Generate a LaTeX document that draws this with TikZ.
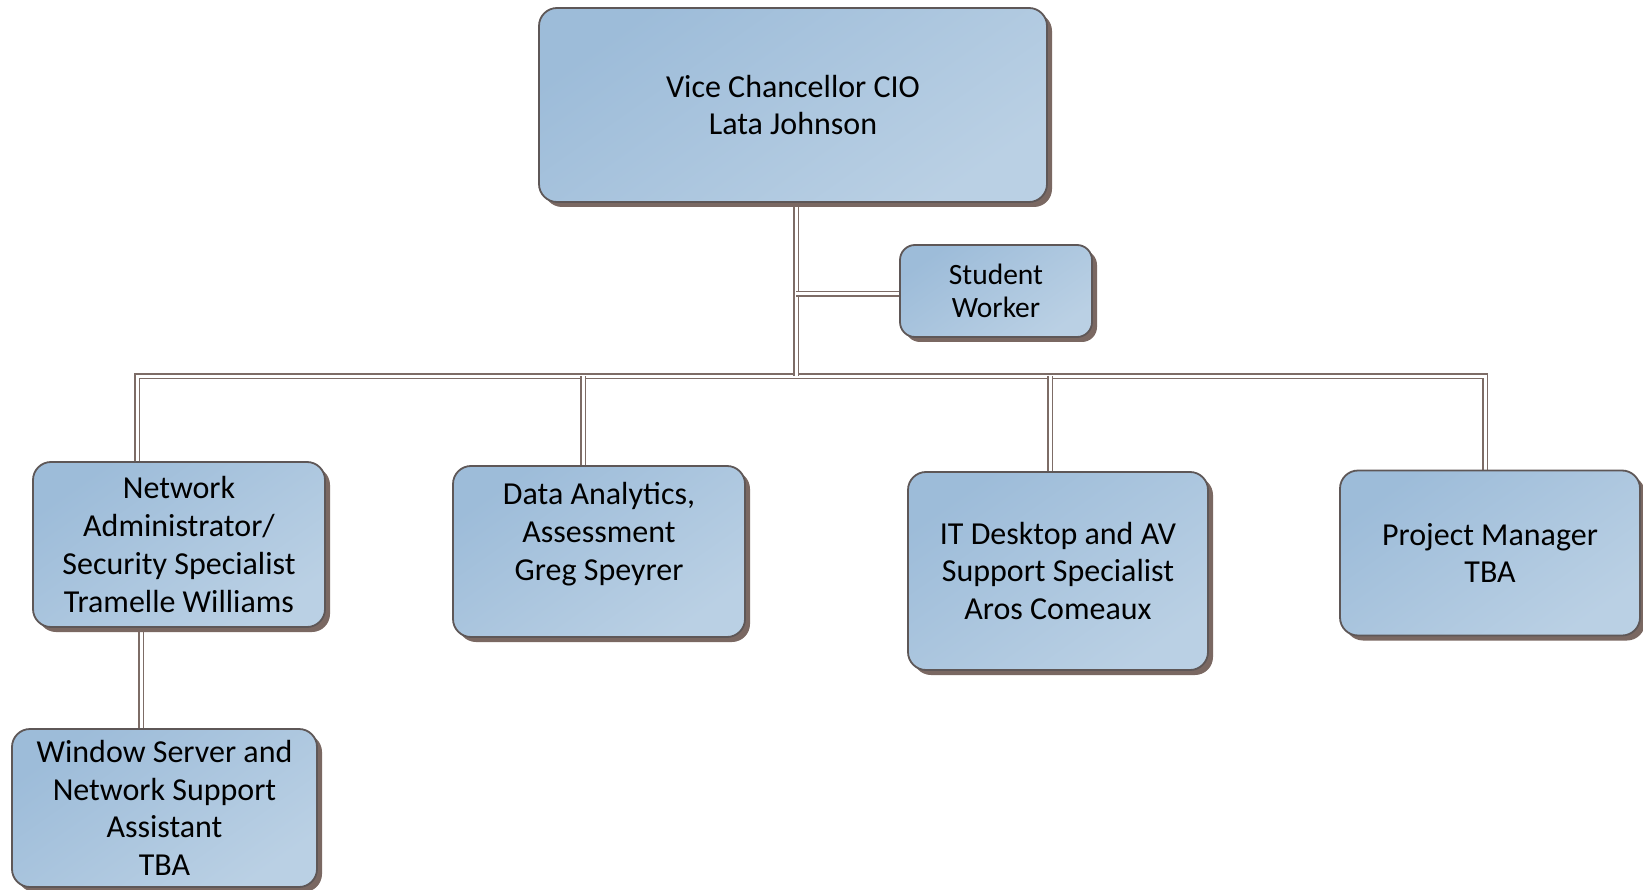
\documentclass[tikz,border=0pt]{standalone}
\usepackage{fontspec}
\setmainfont{Carlito}
\usetikzlibrary{shadows,backgrounds}
\definecolor{boxa}{HTML}{9DBCD9}
\definecolor{boxb}{HTML}{BAD0E4}
\definecolor{edgec}{HTML}{5E5757}
\definecolor{shadc}{HTML}{7A6862}
\definecolor{linec}{HTML}{7D6C66}
\begin{document}
\begin{tikzpicture}[x=1pt,y=-1pt,
  box/.style={rectangle, rounded corners=18pt, draw=edgec, line width=1.8pt,
    top color=boxa, bottom color=boxb, shading angle=35,
    align=center, inner sep=0pt, text=black,
    font=\fontsize{32}{37.7}\selectfont,
    general shadow={fill=shadc, shadow xshift=5pt, shadow yshift=-5pt}},
  smallbox/.style={box, rounded corners=15pt, font=\fontsize{29.5}{33.5}\selectfont},
  txt/.style={align=center, inner sep=0pt, text=black, font=\fontsize{32}{37.7}\selectfont},
  conn/.style={draw=linec, line width=1.3pt, double=white, double distance=3pt}]
\useasboundingbox (0,0) rectangle (1643,890);

\node[box, minimum width=508pt, minimum height=194pt] (top) at (793,105) {Vice Chancellor CIO\\Lata Johnson};
\node[smallbox, minimum width=192pt, minimum height=92pt] (sw) at (996,291) {Student\\Worker};
\node[box, minimum width=292pt, minimum height=165pt] (net) at (179,544.5) {Network\\Administrator/\\Security Specialist\\Tramelle Williams};
\node[box, minimum width=305pt, minimum height=158pt] (win) at (164.5,808) {Window Server and\\Network Support\\Assistant\\TBA};
\node[box, minimum width=292pt, minimum height=171pt] (da) at (599,551.5) {};
\node[txt] (dat) at (599,534) {Data Analytics,\\Assessment\\Greg Speyrer};
\node[box, minimum width=300pt, minimum height=198pt] (it) at (1058,571) {IT Desktop and AV\\Support Specialist\\Aros Comeaux};
\node[box, minimum width=300pt, minimum height=165pt] (pm) at (1490,553) {Project Manager\\TBA};

\begin{scope}[on background layer]
  \fill[white] (0,0) rectangle (1643,890);
  \coordinate (hub) at (796,376);
  \coordinate (swj) at (796,294);
  \coordinate (bL) at (137,376);
  \coordinate (bR) at (1485,376);
  \coordinate (dJ) at (583,376);
  \coordinate (iJ) at (1050,376);
  \coordinate (nJ) at (141,627);
  \draw[conn] (net.north -| bL) -- (bL) -- (bR) -- (pm.north -| bR);
  \draw[conn] (dJ) -- (da.north -| dJ);
  \draw[conn] (iJ) -- (it.north -| iJ);
  \draw[conn] (top.south -| hub) -- (hub);
  \draw[conn] (swj) -- (sw.west |- swj);
  \draw[conn] (net.south -| nJ) -- (win.north -| nJ);
\end{scope}
\end{tikzpicture}
\end{document}
